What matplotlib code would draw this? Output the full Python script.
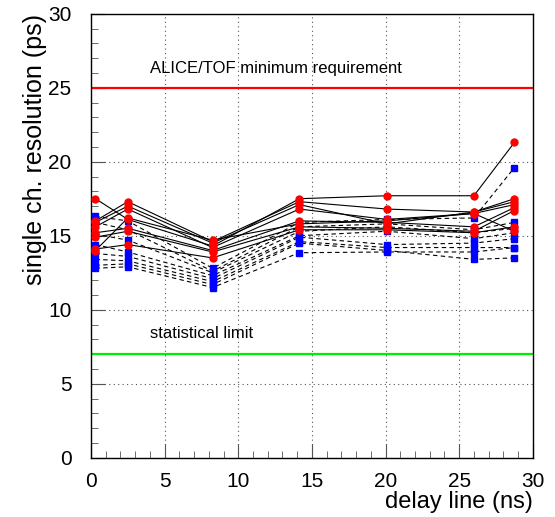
import matplotlib
matplotlib.use("Agg")
import matplotlib.pyplot as plt
from matplotlib.ticker import MultipleLocator

plt.rcParams['font.family'] = ['Liberation Sans', 'DejaVu Sans']

# delay line settings (ns)
delay = [0.3, 2.5, 8.25, 14.15, 20.1, 26.0, 28.75]

# solid lines, red circles
solid_series = [
    [17.5, 16.1, 14.3, 17.5, 17.7, 17.7, 21.3],
    [16.0, 17.3, 14.6, 17.3, 16.8, 16.6, 17.5],
    [15.9, 17.0, 14.5, 17.1, 15.8, 16.6, 17.3],
    [15.6, 16.8, 14.2, 16.8, 16.1, 16.5, 17.1],
    [15.2, 15.5, 14.0, 16.0, 15.9, 15.6, 16.9],
    [14.9, 15.3, 13.9, 15.6, 15.5, 15.3, 16.7],
    [14.1, 14.4, 13.5, 15.4, 15.4, 15.2, 15.6],
    [14.0, 16.2, 14.7, 15.8, 16.0, 16.5, 15.3],
]

# dashed lines, blue squares
dashed_series = [
    [16.3, 16.0, 12.8, 15.9, 16.1, 16.2, 19.6],
    [15.9, 15.4, 12.6, 15.6, 15.8, 15.4, 15.9],
    [15.1, 14.7, 12.5, 15.3, 15.6, 15.2, 15.5],
    [14.4, 13.9, 12.3, 15.0, 15.3, 14.8, 15.2],
    [13.8, 13.6, 12.1, 14.9, 14.4, 14.5, 14.8],
    [13.4, 13.3, 11.9, 14.6, 14.2, 14.2, 14.2],
    [12.8, 12.9, 11.5, 13.85, 13.9, 13.9, 14.2],
    [13.0, 13.1, 11.7, 14.5, 14.0, 13.4, 13.5],
]

requirement = 25.0
stat_limit = 7.0

fig = plt.figure(figsize=(5.55, 5.17), dpi=100)
ax = fig.add_axes([0.164, 0.1147, 0.796, 0.8588])

ax.axhline(requirement, color='#ff0000', lw=1.6, zorder=2)
ax.axhline(stat_limit, color='#00ee00', lw=1.6, zorder=2)
ax.text(4.0, 26.3, "ALICE/TOF minimum requirement", fontsize=12, va='center')
ax.text(4.0, 8.4, "statistical limit", fontsize=12, va='center')

for ys in dashed_series:
    ax.plot(delay, ys, color='black', lw=0.8, ls=(0, (4, 3)), zorder=3)
    ax.plot(delay, ys, ls='none', marker='s', ms=4, color='#0000ff',
            mec='#0000ff', zorder=4)

for ys in solid_series:
    ax.plot(delay, ys, color='black', lw=0.8, zorder=3)
    ax.plot(delay, ys, ls='none', marker='o', ms=5, color='#ff0000',
            mec='#ff0000', zorder=5)

ax.set_xlim(0, 30)
ax.set_ylim(0, 30)
ax.xaxis.set_major_locator(MultipleLocator(5))
ax.xaxis.set_minor_locator(MultipleLocator(1))
ax.yaxis.set_major_locator(MultipleLocator(5))
ax.yaxis.set_minor_locator(MultipleLocator(1))
ax.tick_params(which='both', direction='in', top=False, right=False,
               labelsize=15, color='#555555')
ax.tick_params(which='major', length=10, pad=10)
ax.tick_params(which='minor', length=5)
ax.tick_params(axis='y', which='major', pad=14)
ax.grid(True, which='major', ls=(0, (1, 3)), color='#555555', lw=0.8)
for sp in ax.spines.values():
    sp.set_linewidth(1.0)

ax.set_xlabel("delay line (ns)", fontsize=17, loc='right', labelpad=0)
ax.set_ylabel("single ch. resolution (ps)", fontsize=18, loc='top', labelpad=1)

fig.savefig("out.png", dpi=100)
